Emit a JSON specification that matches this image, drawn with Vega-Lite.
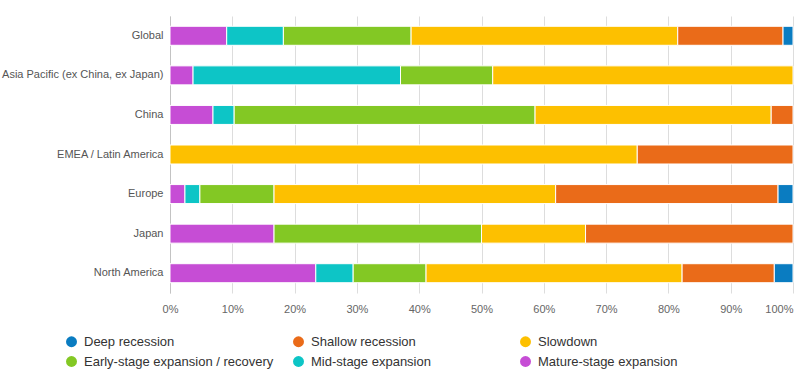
{
  "$schema": "https://vega.github.io/schema/vega-lite/v6.json",
  "width": 623,
  "height": 277,
  "autosize": "none",
  "padding": {"left": 170, "top": 16, "right": 3, "bottom": 89},
  "background": "#ffffff",
  "config": {
    "view": {"stroke": null},
    "font": "Liberation Sans"
  },
  "data": {
    "values": [
      {"region": "Global", "stage": "Mature-stage expansion", "k": 1, "value": 9.1},
      {"region": "Global", "stage": "Mid-stage expansion", "k": 2, "value": 9.1},
      {"region": "Global", "stage": "Early-stage expansion / recovery", "k": 3, "value": 20.5},
      {"region": "Global", "stage": "Slowdown", "k": 4, "value": 42.8},
      {"region": "Global", "stage": "Shallow recession", "k": 5, "value": 16.9},
      {"region": "Global", "stage": "Deep recession", "k": 6, "value": 1.6},
      {"region": "Asia Pacific (ex China, ex Japan)", "stage": "Mature-stage expansion", "k": 1, "value": 3.7},
      {"region": "Asia Pacific (ex China, ex Japan)", "stage": "Mid-stage expansion", "k": 2, "value": 33.3},
      {"region": "Asia Pacific (ex China, ex Japan)", "stage": "Early-stage expansion / recovery", "k": 3, "value": 14.8},
      {"region": "Asia Pacific (ex China, ex Japan)", "stage": "Slowdown", "k": 4, "value": 48.2},
      {"region": "China", "stage": "Mature-stage expansion", "k": 1, "value": 6.9},
      {"region": "China", "stage": "Mid-stage expansion", "k": 2, "value": 3.4},
      {"region": "China", "stage": "Early-stage expansion / recovery", "k": 3, "value": 48.3},
      {"region": "China", "stage": "Slowdown", "k": 4, "value": 37.9},
      {"region": "China", "stage": "Shallow recession", "k": 5, "value": 3.5},
      {"region": "EMEA / Latin America", "stage": "Slowdown", "k": 4, "value": 75},
      {"region": "EMEA / Latin America", "stage": "Shallow recession", "k": 5, "value": 25},
      {"region": "Europe", "stage": "Mature-stage expansion", "k": 1, "value": 2.4},
      {"region": "Europe", "stage": "Mid-stage expansion", "k": 2, "value": 2.4},
      {"region": "Europe", "stage": "Early-stage expansion / recovery", "k": 3, "value": 11.9},
      {"region": "Europe", "stage": "Slowdown", "k": 4, "value": 45.2},
      {"region": "Europe", "stage": "Shallow recession", "k": 5, "value": 35.7},
      {"region": "Europe", "stage": "Deep recession", "k": 6, "value": 2.4},
      {"region": "Japan", "stage": "Mature-stage expansion", "k": 1, "value": 16.7},
      {"region": "Japan", "stage": "Early-stage expansion / recovery", "k": 3, "value": 33.3},
      {"region": "Japan", "stage": "Slowdown", "k": 4, "value": 16.7},
      {"region": "Japan", "stage": "Shallow recession", "k": 5, "value": 33.3},
      {"region": "North America", "stage": "Mature-stage expansion", "k": 1, "value": 23.4},
      {"region": "North America", "stage": "Mid-stage expansion", "k": 2, "value": 6.0},
      {"region": "North America", "stage": "Early-stage expansion / recovery", "k": 3, "value": 11.7},
      {"region": "North America", "stage": "Slowdown", "k": 4, "value": 41.1},
      {"region": "North America", "stage": "Shallow recession", "k": 5, "value": 14.8},
      {"region": "North America", "stage": "Deep recession", "k": 6, "value": 3.0}
    ]
  },
  "mark": {"type": "bar", "stroke": "#ffffff", "strokeWidth": 1},
  "encoding": {
    "y": {
      "field": "region",
      "type": "nominal",
      "sort": ["Global", "Asia Pacific (ex China, ex Japan)", "China", "EMEA / Latin America", "Europe", "Japan", "North America"],
      "scale": {"paddingInner": 0.52, "paddingOuter": 0.26},
      "axis": {
        "title": null,
        "ticks": false,
        "grid": false,
        "domain": true,
        "domainColor": "#c3c3c3",
        "labelPadding": 7,
        "labelFontSize": 11,
        "labelColor": "#555555",
        "labelLimit": 300
      }
    },
    "x": {
      "field": "value",
      "type": "quantitative",
      "stack": "normalize",
      "scale": {"domain": [0, 1], "nice": false},
      "axis": {
        "title": null,
        "values": [0, 0.1, 0.2, 0.3, 0.4, 0.5, 0.6, 0.7, 0.8, 0.9, 1],
        "format": ".0%",
        "domain": false,
        "ticks": false,
        "grid": true,
        "gridColor": "#dddddd",
        "labelPadding": 10,
        "labelFontSize": 11,
        "labelColor": "#666666",
        "labelAlign": {"condition": {"test": "datum.value == 1", "value": "right"}, "value": "center"}
      }
    },
    "color": {
      "field": "stage",
      "type": "nominal",
      "scale": {
        "domain": ["Deep recession", "Shallow recession", "Slowdown", "Early-stage expansion / recovery", "Mid-stage expansion", "Mature-stage expansion"],
        "range": ["#0a7cc1", "#ea6b19", "#fdc000", "#83c824", "#0dc5c6", "#c64dd5"]
      },
      "legend": {
        "title": null,
        "orient": "none",
        "legendX": -105,
        "legendY": 319,
        "direction": "horizontal",
        "columns": 3,
        "gridAlign": "all",
        "columnPadding": 18,
        "rowPadding": 6,
        "symbolType": "circle",
        "symbolSize": 120,
        "symbolStrokeWidth": 0,
        "labelFontSize": 13,
        "labelColor": "#333333",
        "labelOffset": 6,
        "labelLimit": 300
      }
    },
    "order": {"field": "k", "type": "quantitative"}
  }
}
